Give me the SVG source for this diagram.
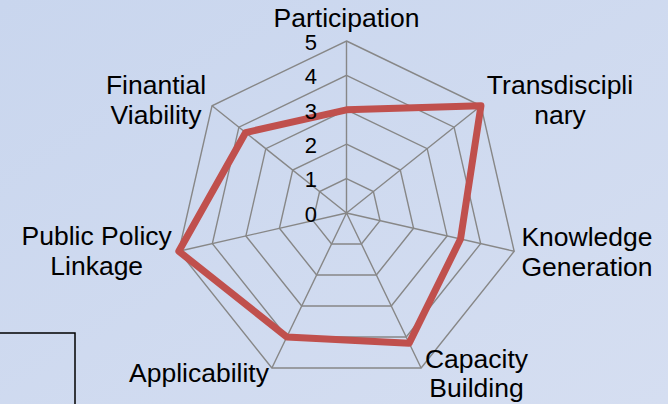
<svg xmlns="http://www.w3.org/2000/svg" width="668" height="404" viewBox="0 0 668 404">
  <defs>
    <linearGradient id="bg" x1="0" y1="0" x2="1" y2="1">
      <stop offset="0" stop-color="#c9d6ee"/>
      <stop offset="1" stop-color="#d5def1"/>
    </linearGradient>
    <style>
      .grid { fill: none; stroke: #878787; stroke-width: 1.4; }
      .series { fill: none; stroke: #c0504d; stroke-width: 7; stroke-linejoin: round; }
      .cat { font-family: "Liberation Sans", Arial, sans-serif; font-size: 26.5px; fill: #000; text-anchor: middle; }
      .tick { font-family: "Liberation Sans", Arial, sans-serif; font-size: 22px; fill: #000; text-anchor: end; }
    </style>
  </defs>

  <rect id="background" x="0" y="0" width="668" height="404" fill="url(#bg)"/>

  <g id="grid">
    <polygon class="grid" points="346.5,41 480.97,105.76 514.19,251.27 421.13,367.97 271.87,367.97 178.81,251.27 212.03,105.76"/>
    <polygon class="grid" points="346.5,75.4 454.08,127.21 480.65,243.62 406.2,336.97 286.8,336.97 212.35,243.62 238.92,127.21"/>
    <polygon class="grid" points="346.5,109.8 427.18,148.66 447.11,235.96 391.28,305.98 301.72,305.98 245.89,235.96 265.82,148.66"/>
    <polygon class="grid" points="346.5,144.2 400.29,170.1 413.58,228.31 376.35,274.99 316.65,274.99 279.42,228.31 292.71,170.1"/>
    <polygon class="grid" points="346.5,178.6 373.39,191.55 380.04,220.65 361.43,243.99 331.57,243.99 312.96,220.65 319.61,191.55"/>
    <path class="grid" d="M346.5,213 L346.5,41 M346.5,213 L480.97,105.76 M346.5,213 L514.19,251.27 M346.5,213 L421.13,367.97 M346.5,213 L271.87,367.97 M346.5,213 L178.81,251.27 M346.5,213 L212.03,105.76"/>
  </g>

  <g id="series">
    <polygon class="series" points="346.5,109.8 480.97,105.76 460.53,239.03 409.19,343.17 286.8,336.97 178.81,251.27 245.64,132.57"/>
  </g>

  <g id="ticks">
    <text class="tick" x="317" y="49.7">5</text>
    <text class="tick" x="317" y="84.1">4</text>
    <text class="tick" x="317" y="118.5">3</text>
    <text class="tick" x="317" y="152.9">2</text>
    <text class="tick" x="317" y="187.3">1</text>
    <text class="tick" x="317" y="221.7">0</text>
  </g>

  <g id="participation"><text class="cat" x="346.5" y="27">Participation</text></g>
  <g id="transdisciplinary"><text class="cat" x="560" y="94.3">Transdiscipli</text><text class="cat" x="560" y="124">nary</text></g>
  <g id="knowledge-generation"><text class="cat" x="587" y="245.5">Knowledge</text><text class="cat" x="587" y="276">Generation</text></g>
  <g id="capacity-building"><text class="cat" x="476.5" y="367.7">Capacity</text><text class="cat" x="476.5" y="397">Building</text></g>
  <g id="applicability"><text class="cat" x="199" y="382">Applicability</text></g>
  <g id="public-policy-linkage"><text class="cat" x="96.7" y="245">Public Policy</text><text class="cat" x="96.7" y="275">Linkage</text></g>
  <g id="finantial-viability"><text class="cat" x="156" y="94">Finantial</text><text class="cat" x="156" y="124">Viability</text></g>

  <rect id="legend-box" x="-2" y="333" width="77" height="80" fill="none" stroke="#000" stroke-width="1.5"/>
</svg>
